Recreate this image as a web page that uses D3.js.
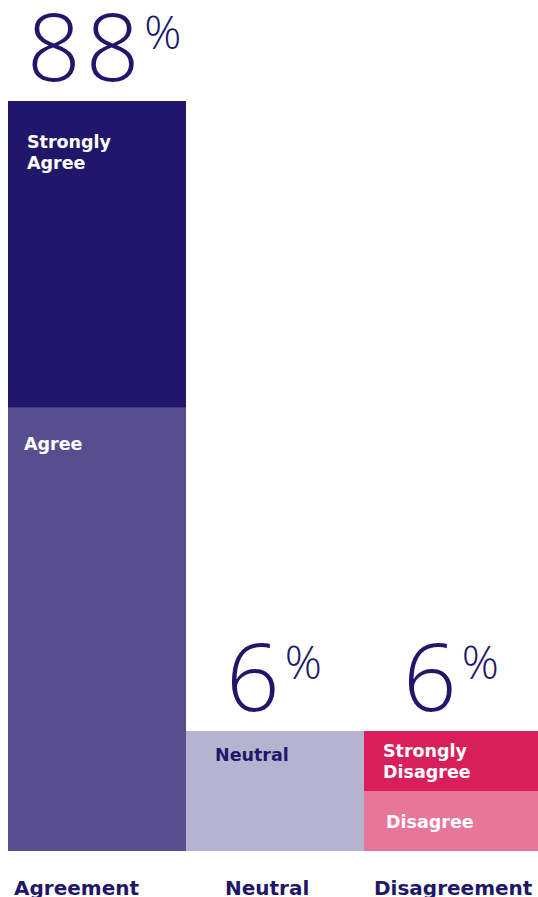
<!DOCTYPE html>
<html>
<head>
<meta charset="utf-8">
<script src="https://cdn.jsdelivr.net/npm/d3@7"></script>
<style>
  body { margin: 0; background: #fff; }
  svg { display: block; }
</style>
</head>
<body>
<svg></svg>
<script>
const width = 538, height = 897;
const svg = d3.select("svg").attr("width", width).attr("height", height);

// Data
const categories = ["Agreement", "Neutral", "Disagreement"];
const totals = [88, 6, 6];
const segments = [
  [{ label: ["Agree"], value: 52, color: "#574d8f", text: "#fff" },
   { label: ["Strongly", "Agree"], value: 36, color: "#21176a", text: "#fff" }],
  [{ label: ["Neutral"], value: 6, color: "#b5b3d0", text: "#21176a" }],
  [{ label: ["Disagree"], value: 3, color: "#e8759a", text: "#fff" },
   { label: ["Strongly", "Disagree"], value: 3, color: "#d81e5b", text: "#fff" }]
];

const baseY = 851;
const navy = "#21176a";
// layout tweaks, per column
const bigNumX = [19, 40, 39];
const catLabelX = [6, 39, 10];

const x = d3.scaleBand().domain(categories).range([8, 542]).padding(0);
// column height (chart is not proportional, small columns get a minimum)
const h = d3.scaleLinear().domain([6, 88]).range([120, 750]);

categories.forEach((cat, i) => {
  const colH = h(totals[i]);
  const segScale = d3.scaleLinear().domain([0, totals[i]]).range([0, colH]);
  let acc = 0;
  const g = svg.append("g");
  segments[i].forEach(s => {
    const y0 = baseY - segScale(acc + s.value);
    const y1 = baseY - segScale(acc);
    g.append("rect")
      .attr("x", x(cat))
      .attr("y", y0)
      .attr("width", x.bandwidth())
      .attr("height", y1 - y0)
      .attr("fill", s.color);
    acc += s.value;
  });

  // big percentage label
  const topY = baseY - colH;
  const t = svg.append("text")
    .attr("x", x(cat) + bigNumX[i])
    .attr("y", topY - 20)
    .attr("fill", navy)
    .style("font-family", "'Open Sans'")
    .style("font-weight", 300);
  t.append("tspan").style("font-size", "94px").attr("letter-spacing", 5).text(totals[i]);
  t.append("tspan").style("font-size", "46px").attr("dx", 0).attr("dy", -32).text("%");

  // category label
  svg.append("text")
    .attr("x", x(cat) + catLabelX[i])
    .attr("y", 895)
    .attr("fill", navy)
    .style("font-family", "DejaVu Sans")
    .style("font-weight", "bold")
    .style("font-size", "20px")
    .text(cat);
});

// segment labels
const labelPos = {
  "Strongly Agree": [27, 148],
  "Agree": [24, 450],
  "Neutral": [215, 761],
  "Strongly Disagree": [383, 757],
  "Disagree": [386, 828]
};
segments.flat().forEach(s => {
  const p = labelPos[s.label.join(" ")];
  const t = svg.append("text")
    .attr("x", p[0])
    .attr("y", p[1])
    .attr("fill", s.text)
    .style("font-family", "DejaVu Sans")
    .style("font-weight", "bold")
    .style("font-size", "17.5px");
  s.label.forEach((l, k) => {
    t.append("tspan").attr("x", p[0]).attr("dy", k ? 21 : 0).text(l);
  });
});
</script>
</body>
</html>
